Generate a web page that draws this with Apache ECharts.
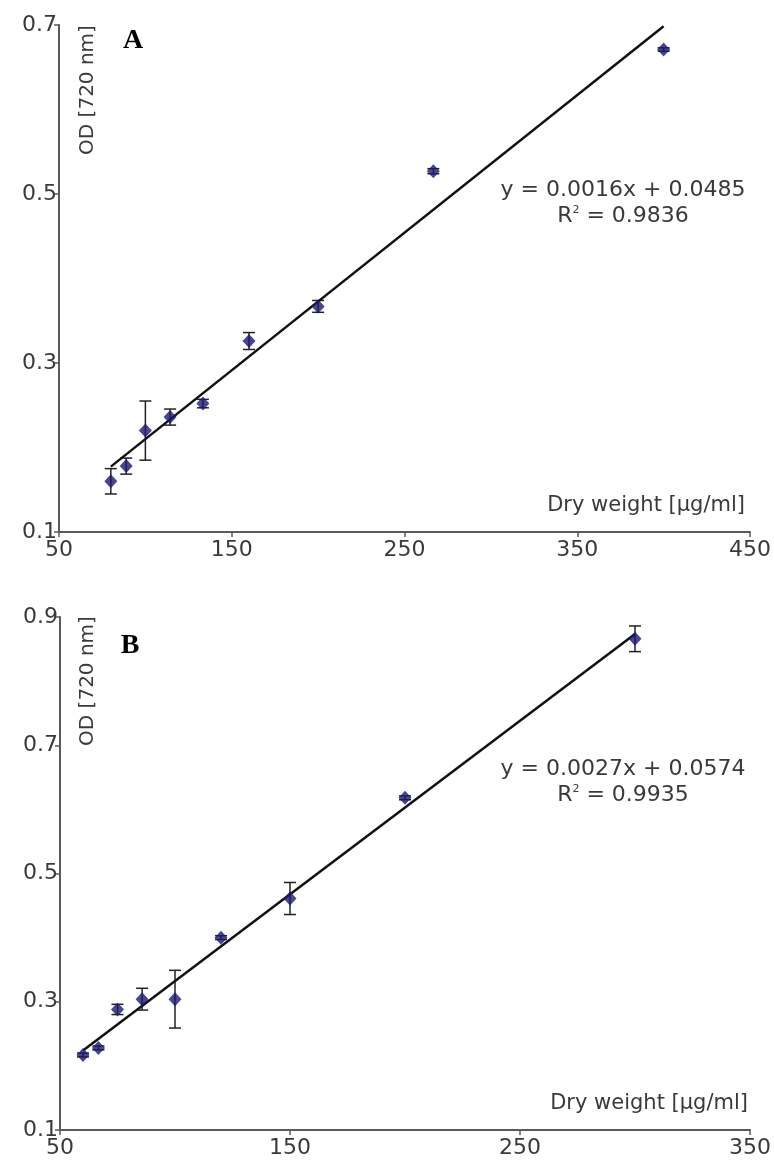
<!DOCTYPE html>
<html>
<head>
<meta charset="utf-8">
<script src="https://cdn.jsdelivr.net/npm/echarts@6/dist/echarts.min.js"></script>
<style>
html,body{margin:0;padding:0;background:#fff;}
#chart{width:774px;height:1162px;}
</style>
</head>
<body>
<div id="chart"></div>
<script>
// Panel A data
const xA = [80, 88.9, 100, 114.3, 133.3, 160, 200, 266.7, 400];
const yA = [0.160, 0.178, 0.220, 0.236, 0.252, 0.326, 0.367, 0.527, 0.671];
const errA = [0.015, 0.0095, 0.035, 0.0095, 0.005, 0.01, 0.007, 0.003, 0.002];
const eqA = 'y = 0.0016x + 0.0485';
const r2A = '0.9836';
// Panel B data
const xB = [60, 66.7, 75, 85.7, 100, 120, 150, 200, 300];
const yB = [0.217, 0.228, 0.288, 0.304, 0.304, 0.400, 0.461, 0.618, 0.866];
const errB = [0.003, 0.003, 0.008, 0.017, 0.045, 0.003, 0.025, 0.003, 0.02];
const eqB = 'y = 0.0027x + 0.0574';
const r2B = '0.9935';
// Axis ticks
const xTicksA = [50, 150, 250, 350, 450];
const yTicksA = [0.1, 0.3, 0.5, 0.7];
const xTicksB = [50, 150, 250, 350];
const yTicksB = [0.1, 0.3, 0.5, 0.7, 0.9];
const xTitle = 'Dry weight [µg/ml]';
const yTitle = 'OD [720 nm]';

function fit(xs, ys) {
  const n = xs.length;
  const mx = xs.reduce((a, b) => a + b, 0) / n;
  const my = ys.reduce((a, b) => a + b, 0) / n;
  let sxy = 0, sxx = 0;
  for (let i = 0; i < n; i++) { sxy += (xs[i] - mx) * (ys[i] - my); sxx += (xs[i] - mx) ** 2; }
  const b = sxy / sxx, a = my - b * mx;
  const x0 = Math.min(...xs), x1 = Math.max(...xs);
  return [[x0, a + b * x0], [x1, a + b * x1]];
}

const axisCol = '#5a5a5a';
const labCol = '#3a3a3a';
const FONT = '"DejaVu Sans", Arial, sans-serif';

function xAxis(gi, ticks) {
  return {
    type: 'value', gridIndex: gi, min: ticks[0], max: ticks[ticks.length - 1], interval: 100,
    splitLine: { show: false },
    axisLine: { lineStyle: { color: axisCol, width: 2 } },
    axisTick: { show: true, length: 5, lineStyle: { color: axisCol, width: 1.5 } },
    axisLabel: { color: labCol, fontSize: 22, fontFamily: FONT, margin: 7 }
  };
}
function yAxis(gi, ticks) {
  return {
    type: 'value', gridIndex: gi, min: ticks[0], max: ticks[ticks.length - 1], interval: 0.2,
    splitLine: { show: false },
    axisLine: { show: true, lineStyle: { color: axisCol, width: 2 } },
    axisTick: { show: true, length: 5, lineStyle: { color: axisCol, width: 1.5 } },
    axisLabel: { color: labCol, fontSize: 22, fontFamily: FONT, margin: 2,
      formatter: v => (Math.round(v * 10) / 10).toFixed(1) }
  };
}

function errSeries(gi, xs, ys, es) {
  return {
    type: 'custom', xAxisIndex: gi, yAxisIndex: gi, z: 3,
    data: xs.map((x, i) => [x, ys[i], es[i]]),
    renderItem: function (params, api) {
      const x = api.value(0), y = api.value(1), e = api.value(2);
      const t = api.coord([x, y + e]);
      const b = api.coord([x, y - e]);
      const w = 6;
      const st = { stroke: '#222', lineWidth: 1.5 };
      return {
        type: 'group', children: [
          { type: 'line', shape: { x1: t[0], y1: t[1], x2: b[0], y2: b[1] }, style: st },
          { type: 'line', shape: { x1: t[0] - w, y1: t[1], x2: t[0] + w, y2: t[1] }, style: st },
          { type: 'line', shape: { x1: b[0] - w, y1: b[1], x2: b[0] + w, y2: b[1] }, style: st }
        ]
      };
    }
  };
}
function ptSeries(gi, xs, ys) {
  return {
    type: 'scatter', xAxisIndex: gi, yAxisIndex: gi, z: 5,
    symbol: 'diamond', symbolSize: [13, 14],
    itemStyle: { color: '#1c1672' },
    data: xs.map((x, i) => [x, ys[i]])
  };
}
function lineSeries(gi, xs, ys) {
  return {
    type: 'line', xAxisIndex: gi, yAxisIndex: gi, z: 4,
    symbol: 'none', lineStyle: { color: '#111', width: 2.5 },
    data: fit(xs, ys)
  };
}

function txt(x, y, text, opts) {
  return {
    type: 'text', x: x, y: y,
    style: Object.assign({ text: text, font: '21px ' + FONT, fill: labCol, align: 'center', verticalAlign: 'middle' }, opts || {})
  };
}
function r2txt(x, y, val) {
  return {
    type: 'text', x: x, y: y,
    style: {
      text: 'R{s|2} = ' + val, align: 'center', verticalAlign: 'middle',
      font: '22px ' + FONT, fill: labCol,
      rich: { s: { fontSize: 11, fontFamily: FONT, fill: labCol, verticalAlign: 'top', padding: [0, 0, 12, 0] } }
    }
  };
}

const chart = echarts.init(document.getElementById('chart'), null, { renderer: 'canvas' });
chart.setOption({
  animation: false,
  backgroundColor: '#fff',
  grid: [
    { left: 59, top: 25, width: 692, height: 507 },
    { left: 60, top: 617, width: 692, height: 513 }
  ],
  xAxis: [xAxis(0, xTicksA), xAxis(1, xTicksB)],
  yAxis: [yAxis(0, yTicksA), yAxis(1, yTicksB)],
  series: [
    errSeries(0, xA, yA, errA), lineSeries(0, xA, yA), ptSeries(0, xA, yA),
    errSeries(1, xB, yB, errB), lineSeries(1, xB, yB), ptSeries(1, xB, yB)
  ],
  graphic: [
    txt(133, 41, 'A', { font: 'bold 28px Liberation Serif, Times New Roman, serif', fill: '#000' }),
    txt(130, 646, 'B', { font: 'bold 28px Liberation Serif, Times New Roman, serif', fill: '#000' }),
    Object.assign(txt(88, 90, yTitle, { font: '20px ' + FONT }), { rotation: Math.PI / 2 }),
    Object.assign(txt(88, 681, yTitle, { font: '20px ' + FONT }), { rotation: Math.PI / 2 }),
    txt(745, 506, xTitle, { align: 'right' }),
    txt(748, 1104, xTitle, { align: 'right' }),
    txt(623, 190, eqA, { font: '22px ' + FONT }),
    r2txt(623, 216, r2A),
    txt(623, 769, eqB, { font: '22px ' + FONT }),
    r2txt(623, 795, r2B)
  ]
});
</script>
</body>
</html>
